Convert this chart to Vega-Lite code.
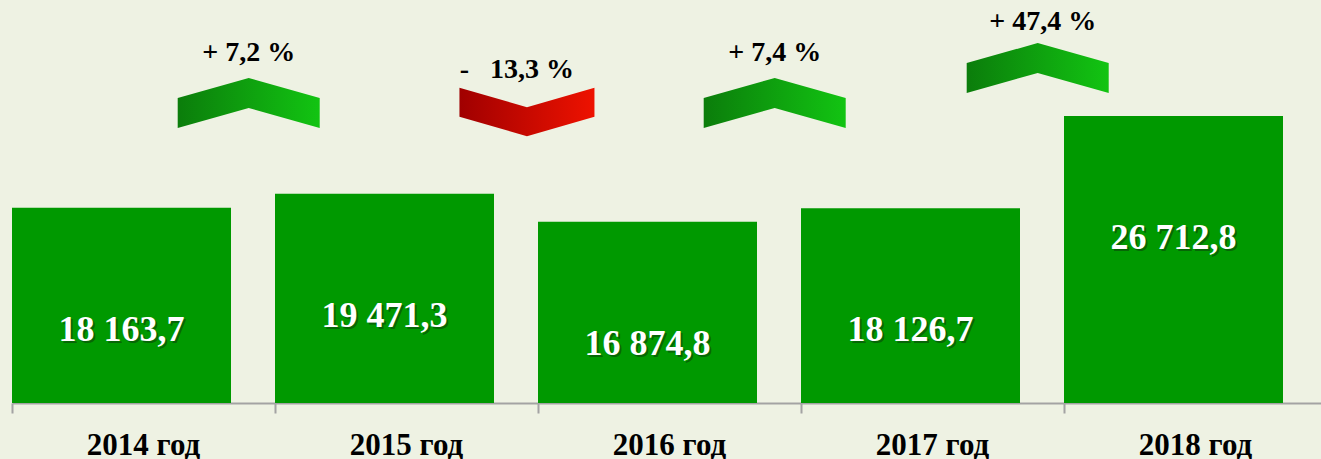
{
  "$schema": "https://vega.github.io/schema/vega-lite/v6.json",
  "width": 1309,
  "height": 403,
  "autosize": {"type": "none"},
  "padding": {"left": 12, "top": 0, "right": 0, "bottom": 56},
  "background": "#eef2e3",
  "config": {"view": {"stroke": null}, "font": "Liberation Serif"},
  "datasets": {
    "bars": [
      {"year": "2014 год", "value": 18163.7, "label": "18 163,7"},
      {"year": "2015 год", "value": 19471.3, "label": "19 471,3"},
      {"year": "2016 год", "value": 16874.8, "label": "16 874,8"},
      {"year": "2017 год", "value": 18126.7, "label": "18 126,7"},
      {"year": "2018 год", "value": 26712.8, "label": "26 712,8"}
    ],
    "changes": [
      {"year": "2014 год", "change": "+ 7,2 %", "dir": "up"},
      {"year": "2015 год", "change": "-\u00a0\u00a0 13,3 %", "dir": "down"},
      {"year": "2016 год", "change": "+ 7,4 %", "dir": "up"},
      {"year": "2017 год", "change": "+ 47,4 %", "dir": "up"}
    ]
  },
  "layer": [
    {
      "data": {"name": "bars"},
      "mark": {"type": "bar", "width": 219, "xOffset": -22, "color": "#009900"},
      "encoding": {
        "x": {
          "field": "year", "type": "nominal",
          "scale": {"range": [0, 1315], "paddingInner": 0, "paddingOuter": 0},
          "axis": {
            "title": null, "labelAngle": 0, "grid": false,
            "bandPosition": 0,
            "labelFont": "Liberation Serif", "labelFontSize": 31, "labelFontWeight": "bold",
            "labelColor": "#000000", "labelBaseline": "alphabetic", "labelPadding": 41,
            "labelOverlap": false, "labelBound": false,
            "domainColor": "#a3a3a3", "domainWidth": 2,
            "tickColor": "#a3a3a3", "tickWidth": 2, "tickSize": 10
          }
        },
        "y": {
          "field": "value", "type": "quantitative",
          "scale": {"domain": [0, 37500], "nice": false},
          "axis": null
        }
      }
    },
    {
      "data": {"name": "bars"},
      "mark": {"type": "text", "font": "Liberation Serif", "fontSize": 36, "fontWeight": "bold", "color": "#0b3d0b", "opacity": 0.55, "align": "center", "baseline": "middle", "dx": 2, "dy": 124},
      "encoding": {
        "x": {"field": "year", "type": "nominal", "bandPosition": 0.4163},
        "y": {"field": "value", "type": "quantitative"},
        "text": {"field": "label"}
      }
    },
    {
      "data": {"name": "bars"},
      "mark": {"type": "text", "font": "Liberation Serif", "fontSize": 36, "fontWeight": "bold", "color": "#ffffff", "align": "center", "baseline": "middle", "dy": 122},
      "encoding": {
        "x": {"field": "year", "type": "nominal", "bandPosition": 0.4163},
        "y": {"field": "value", "type": "quantitative"},
        "text": {"field": "label"}
      }
    },
    {
      "data": {"name": "changes"},
      "transform": [{"filter": "datum.year == '2014 год' || datum.year == '2016 год'"}],
      "encoding": {
        "x": {"field": "year", "type": "nominal", "bandPosition": 0.9},
        "y": {"datum": 27920, "type": "quantitative"}
      },
      "layer": [
        {
          "mark": {
            "type": "point", "filled": true, "opacity": 1, "strokeWidth": 0, "size": 20164,
            "shape": "M-1,-0.07 L0,-0.352 L1,-0.07 L1,0.352 L0,0.07 L-1,0.352 Z",
            "fill": {"gradient": "linear", "x1": 0, "y1": 0, "x2": 1, "y2": 0,
              "stops": [{"offset": 0, "color": "#0b7d0b"}, {"offset": 1, "color": "#12c412"}]}
          }
        },
        {
          "mark": {"type": "text", "font": "Liberation Serif", "fontSize": 28, "fontWeight": "bold", "color": "#000000", "align": "center", "baseline": "middle", "dy": -50},
          "encoding": {"text": {"field": "change"}}
        }
      ]
    },
    {
      "data": {"name": "changes"},
      "transform": [{"filter": "datum.year == '2017 год'"}],
      "encoding": {
        "x": {"field": "year", "type": "nominal", "bandPosition": 0.9},
        "y": {"datum": 31170, "type": "quantitative"}
      },
      "layer": [
        {
          "mark": {
            "type": "point", "filled": true, "opacity": 1, "strokeWidth": 0, "size": 20164,
            "shape": "M-1,-0.07 L0,-0.352 L1,-0.07 L1,0.352 L0,0.07 L-1,0.352 Z",
            "fill": {"gradient": "linear", "x1": 0, "y1": 0, "x2": 1, "y2": 0,
              "stops": [{"offset": 0, "color": "#0b7d0b"}, {"offset": 1, "color": "#12c412"}]}
          }
        },
        {
          "mark": {"type": "text", "font": "Liberation Serif", "fontSize": 28, "fontWeight": "bold", "color": "#000000", "align": "center", "baseline": "middle", "dy": -46, "dx": 5},
          "encoding": {"text": {"field": "change"}}
        }
      ]
    },
    {
      "data": {"name": "changes"},
      "transform": [{"filter": "datum.dir == 'down'"}],
      "encoding": {
        "x": {"field": "year", "type": "nominal", "bandPosition": 0.958},
        "y": {"datum": 27080, "type": "quantitative"}
      },
      "layer": [
        {
          "mark": {
            "type": "point", "filled": true, "opacity": 1, "strokeWidth": 0, "size": 18225,
            "shape": "M-1,-0.36 L0,-0.07 L1,-0.36 L1,0.07 L0,0.36 L-1,0.07 Z",
            "fill": {"gradient": "linear", "x1": 0, "y1": 0, "x2": 1, "y2": 0,
              "stops": [{"offset": 0, "color": "#a00000"}, {"offset": 1, "color": "#ee1200"}]}
          }
        },
        {
          "mark": {"type": "text", "font": "Liberation Serif", "fontSize": 28, "fontWeight": "bold", "color": "#000000", "align": "center", "baseline": "middle", "dy": -42, "dx": -10},
          "encoding": {"text": {"field": "change"}}
        }
      ]
    }
  ]
}
